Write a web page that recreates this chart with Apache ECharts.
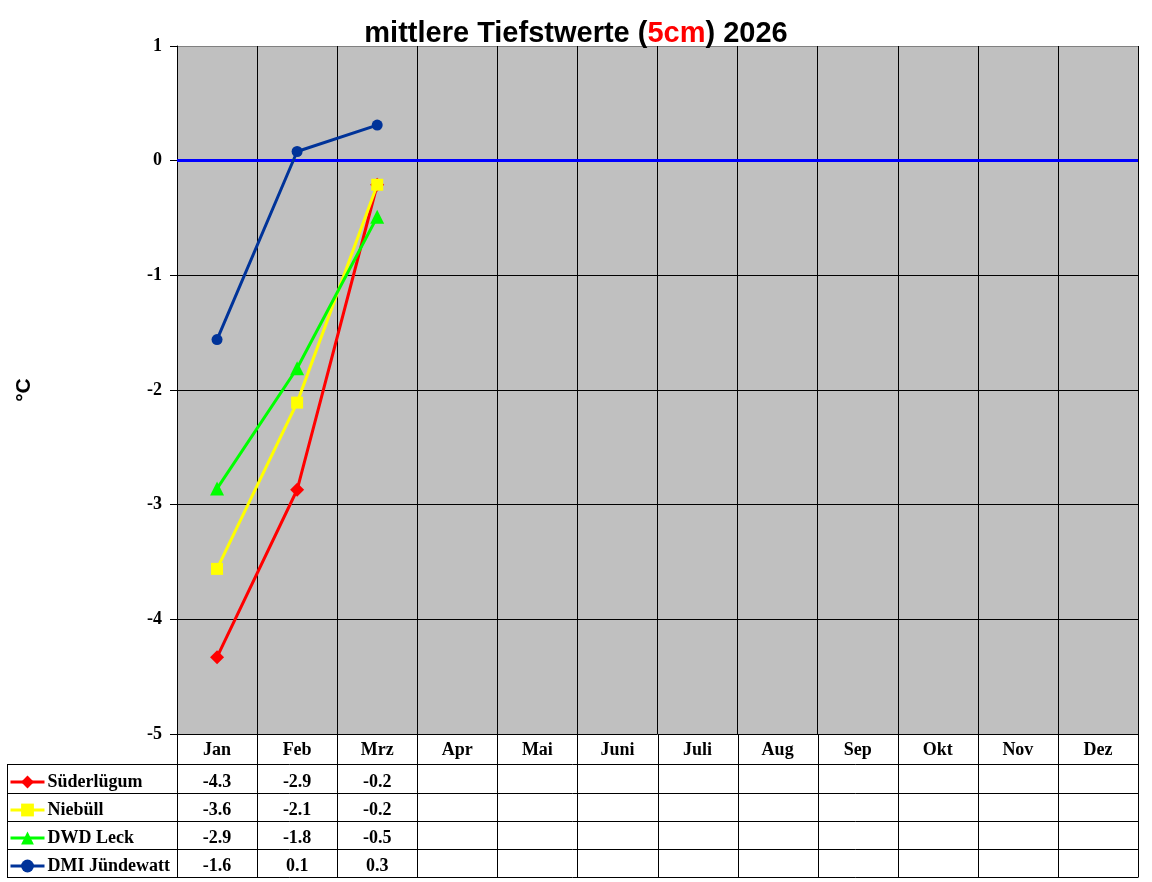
<!DOCTYPE html>
<html>
<head>
<meta charset="utf-8">
<script src="https://cdn.jsdelivr.net/npm/echarts@6/dist/echarts.min.js"></script>
<style>html,body{margin:0;padding:0;background:#fff}#c{width:1152px;height:882px}</style>
</head>
<body>
<div id="c"></div>
<script>
const months = ['Jan','Feb','Mrz','Apr','Mai','Juni','Juli','Aug','Sep','Okt','Nov','Dez'];
const yTicks = [-5,-4,-3,-2,-1,0,1];
const suederluegum = [-4.33, -2.87, -0.21];
const niebuell = [-3.56, -2.11, -0.21];
const dwdLeck = [-2.86, -1.81, -0.49];
const dmiJuendewatt = [-1.56, 0.08, 0.31];
const seriesNames = ['Süderlügum','Niebüll','DWD Leck','DMI Jündewatt'];
const seriesData = [suederluegum, niebuell, dwdLeck, dmiJuendewatt];
const seriesColors = ['#ff0000','#ffff00','#00ff00','#003399'];
const seriesSymbols = ['diamond','rect','triangle','circle'];
const symbolSizes = [14, 12, 14, 11];

const serif = '"Liberation Serif", "Times New Roman", serif';
const sans = '"Liberation Sans", Arial, sans-serif';

const chart = echarts.init(document.getElementById('c'), null, {renderer:'canvas'});

const series = seriesNames.map((n, i) => ({
  name: n,
  type: 'line',
  data: seriesData[i],
  symbol: seriesSymbols[i],
  symbolSize: symbolSizes[i],
  showAllSymbol: true,
  lineStyle: {color: seriesColors[i], width: 3},
  itemStyle: {color: seriesColors[i]},
  animation: false,
  z: 3 + i,
  markLine: i === 0 ? {
    silent: true, symbol: 'none', animation: false,
    label: {show: false},
    lineStyle: {color: '#0000ff', width: 3, type: 'solid', opacity: 1},
    emphasis: {disabled: true},
    data: [{yAxis: 0}]
  } : undefined
}));

const option = {
  animation: false,
  title: {
    text: 'mittlere Tiefstwerte ({r|5cm}) 2026',
    left: 'center', top: 14,
    textStyle: {
      fontFamily: sans, fontWeight: 'bold', fontSize: 29, color: '#000',
      rich: {r: {fontFamily: sans, fontWeight: 'bold', fontSize: 29, color: '#ff0000'}}
    }
  },
  legend: {
    orient: 'vertical', left: 9, top: 773, height: 110, padding: 0,
    itemWidth: 34, itemHeight: 16, itemGap: 10,
    lineStyle: {width: 3},
    textStyle: {fontFamily: serif, fontWeight: 'bold', fontSize: 18, color: '#000', padding: [0, 0, 0, -2]},
    data: seriesNames
  },
  grid: {
    left: 177, right: 14, top: 46, bottom: 148,
    show: true, backgroundColor: '#c0c0c0', borderWidth: 0
  },
  xAxis: {
    type: 'category', data: months, boundaryGap: true,
    axisLine: {show: true, lineStyle: {color: '#000', width: 1}},
    axisTick: {show: false},
    axisLabel: {interval: 0, margin: 7, fontFamily: serif, fontWeight: 'bold', fontSize: 18, color: '#000'},
    splitLine: {show: true, interval: 0, lineStyle: {color: '#000', width: 1}}
  },
  yAxis: {
    type: 'value', min: -5, max: 1, interval: 1,
    name: '°C', nameLocation: 'middle', nameRotate: 90, nameGap: 142,
    nameTextStyle: {fontFamily: sans, fontWeight: 'bold', fontSize: 21, color: '#000'},
    axisLine: {show: true, lineStyle: {color: '#000', width: 1}},
    axisTick: {show: true, length: 7, lineStyle: {color: '#000'}},
    axisLabel: {margin: 15, fontFamily: serif, fontWeight: 'bold', fontSize: 18, color: '#000',
      formatter: v => yTicks.includes(v) ? String(v) : ''},
    splitLine: {show: true, lineStyle: {color: ['#000','#000','#000','#000','#000','#000','#808080'], width: 1}}
  },
  series: series
};
chart.setOption(option);

// data table built from the same arrays, positioned through the library's scales
const rowLines = [764, 793, 821, 849, 877];
const tableTop = 734;
const tableLeft = 7;
const p0 = chart.convertToPixel({gridIndex: 0}, [0, 0])[0];
const p1 = chart.convertToPixel({gridIndex: 0}, [1, 0])[0];
const half = (p1 - p0) / 2;
const colEdges = months.map((m, c) => chart.convertToPixel({gridIndex: 0}, [c, 0])[0] - half);
colEdges.push(colEdges[colEdges.length - 1] + 2 * half);
const gridRight = colEdges[colEdges.length - 1];
const graphic = [];
const ln = (x1, y1, x2, y2) => graphic.push({type: 'line', silent: true,
  shape: {x1: x1, y1: y1, x2: x2, y2: y2}, style: {stroke: '#000', lineWidth: 1}});
rowLines.forEach(y => ln(tableLeft, y + 0.5, gridRight, y + 0.5));
ln(tableLeft + 0.5, rowLines[0], tableLeft + 0.5, rowLines[rowLines.length - 1] + 0.5);
colEdges.forEach(x => ln(Math.round(x) + 0.5, tableTop, Math.round(x) + 0.5, rowLines[rowLines.length - 1] + 0.5));
seriesData.forEach((arr, r) => {
  const yc = (rowLines[r] + rowLines[r + 1]) / 2 + 3.5;
  arr.forEach((v, c) => {
    const x = chart.convertToPixel({gridIndex: 0}, [c, 0])[0];
    graphic.push({type: 'text', x: x, y: yc, silent: true,
      style: {text: v.toFixed(1), fill: '#000', font: 'bold 18px ' + serif, textAlign: 'center', textVerticalAlign: 'middle'}});
  });
});
chart.setOption({graphic: graphic});
</script>
</body>
</html>
